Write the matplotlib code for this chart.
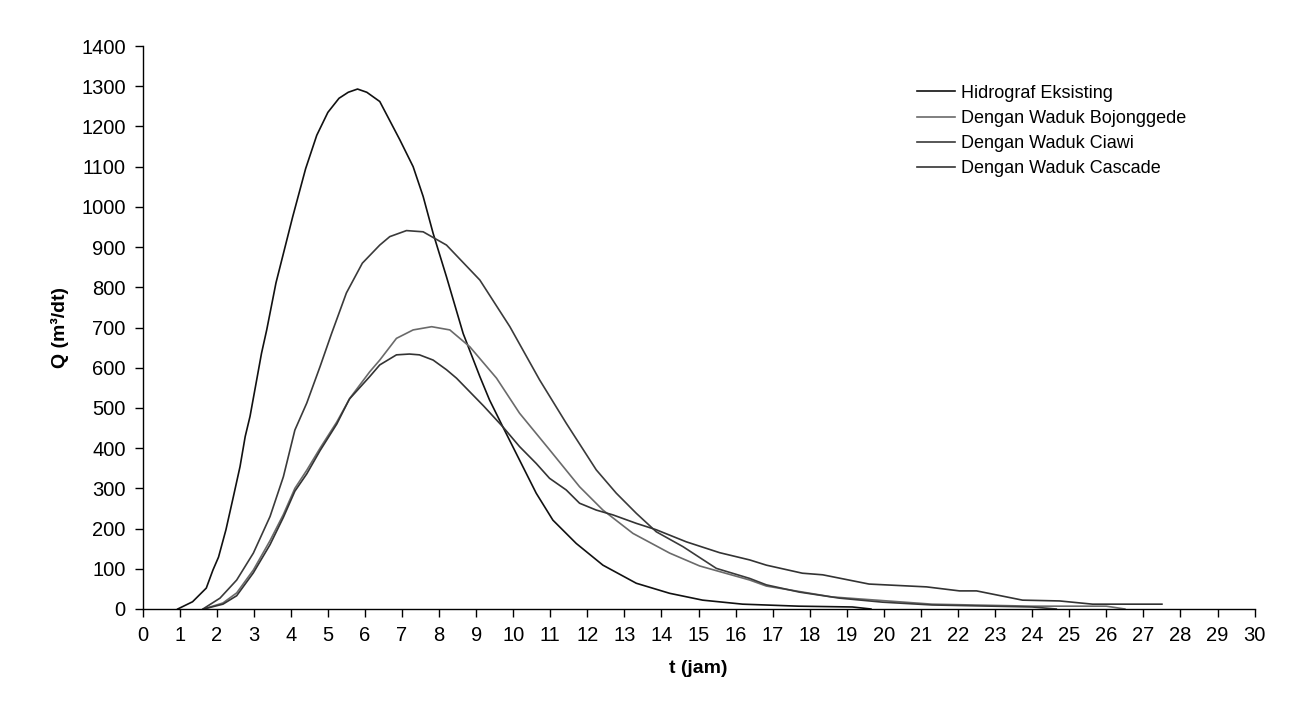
import matplotlib
matplotlib.use("Agg")
import matplotlib.pyplot as plt

# hidrograf banjir
t_eksisting = [0.95, 1.35, 1.72, 1.9, 2.05, 2.25, 2.45, 2.63, 2.77, 2.9, 3.08, 3.21, 3.35, 3.6,
               4.05, 4.4, 4.7, 5.0, 5.3, 5.55, 5.8, 6.05, 6.4, 6.94, 7.3, 7.57, 7.84, 8.2, 8.65,
               9.1, 9.36, 9.72, 10.26, 10.62, 11.07, 11.7, 12.42, 13.32, 14.22, 15.11, 16.19,
               17.7, 19.15, 19.65]
q_eksisting = [0, 18, 52, 97, 129, 197, 279, 354, 429, 479, 570, 636, 694, 811,
               975, 1095, 1178, 1235, 1270, 1285, 1293, 1285, 1262, 1167, 1100, 1026, 934, 826, 685,
               578, 520, 453, 354, 288, 221, 163, 109, 64, 39, 22, 12,
               7, 5, 0]

t_bojonggede = [1.65, 2.17, 2.54, 2.99, 3.44, 3.8, 4.11, 4.43, 4.79, 5.24, 5.6, 6.13, 6.4, 6.85,
                7.3, 7.8, 8.29, 8.83, 9.55, 10.17, 10.98, 11.79, 12.42, 13.23, 14.22, 15.03,
                15.57, 16.38, 16.83, 18.6, 21.3, 24.0, 26.0, 26.5]
q_bojonggede = [0, 15, 40, 97, 170, 235, 300, 345, 400, 465, 525, 590, 619, 673,
                694, 702, 694, 652, 574, 487, 396, 304, 246, 188, 139, 107,
                93, 72, 57, 30, 12, 7, 7, 0]

t_ciawi = [1.63, 2.09, 2.54, 2.99, 3.44, 3.8, 4.11, 4.43, 4.79, 5.1, 5.5, 5.93, 6.4, 6.67,
           7.12, 7.57, 8.2, 9.1, 9.91, 10.71, 11.43, 12.24, 12.78, 13.32, 13.86, 14.58,
           15.48, 16.38, 16.83, 17.72, 18.8, 19.96, 21.3, 24.0, 24.65]
q_ciawi = [0, 27, 72, 139, 230, 329, 445, 512, 603, 685, 786, 860, 905, 926,
           941, 938, 905, 818, 702, 570, 462, 346, 288, 238, 192, 155,
           101, 76, 60, 42, 27, 17, 10, 5, 0]

t_cascade = [1.65, 2.17, 2.54, 2.99, 3.44, 3.8, 4.11, 4.43, 4.79, 5.24, 5.58, 6.12, 6.4, 6.85,
             7.2, 7.47, 7.84, 8.2, 8.47, 9.2, 9.72, 10.17, 10.62, 10.98, 11.43, 11.79, 12.24,
             12.69, 13.32, 13.86, 14.67, 15.57, 16.38, 16.83, 17.8, 18.35, 19.6, 21.15, 22.04,
             22.5, 23.74, 24.74, 25.63, 27.5]
q_cascade = [0, 12, 33, 90, 160, 228, 293, 336, 394, 460, 522, 577, 607, 632,
             634, 632, 619, 595, 574, 505, 453, 404, 362, 325, 296, 263, 246,
             234, 213, 197, 167, 140, 122, 109, 89, 85, 62, 55, 45,
             45, 22, 20, 12, 12]

labels = ["Hidrograf Eksisting", "Dengan Waduk Bojonggede", "Dengan Waduk Ciawi",
          "Dengan Waduk Cascade"]
colors = ["#111111", "#6a6a6a", "#3a3a3a", "#333333"]

plt.rcParams['font.family'] = ['Liberation Sans', 'DejaVu Sans']

fig = plt.figure(figsize=(13.1, 7.19), dpi=100)
ax = fig.add_axes([0.1088, 0.153, 0.8489, 0.783])

series = [(t_eksisting, q_eksisting), (t_bojonggede, q_bojonggede),
          (t_ciawi, q_ciawi), (t_cascade, q_cascade)]
for (t, q), lab, c in zip(series, labels, colors):
    ax.plot(t, q, color=c, lw=1.2, label=lab)

ax.set_xlim(0, 30)
ax.set_ylim(0, 1400)
ax.set_xticks(range(0, 31))
ax.set_yticks(range(0, 1401, 100))
for s in ["top", "right"]:
    ax.spines[s].set_visible(False)
for s in ["left", "bottom"]:
    ax.spines[s].set_linewidth(1.0)
ax.tick_params(direction="out", length=6, width=1.0, labelsize=14.5, pad=6)

ax.set_xlabel("t (jam)", fontsize=14, fontweight="bold", labelpad=11)
ax.set_ylabel("Q (m³/dt)", fontsize=14, fontweight="bold", labelpad=9)

ax.legend(loc="upper left", bbox_to_anchor=(0.69, 0.944), frameon=False, fontsize=13,
          handlelength=2.1, handletextpad=0.35, labelspacing=0.45, borderaxespad=0)

fig.savefig("out.png", dpi=100)
